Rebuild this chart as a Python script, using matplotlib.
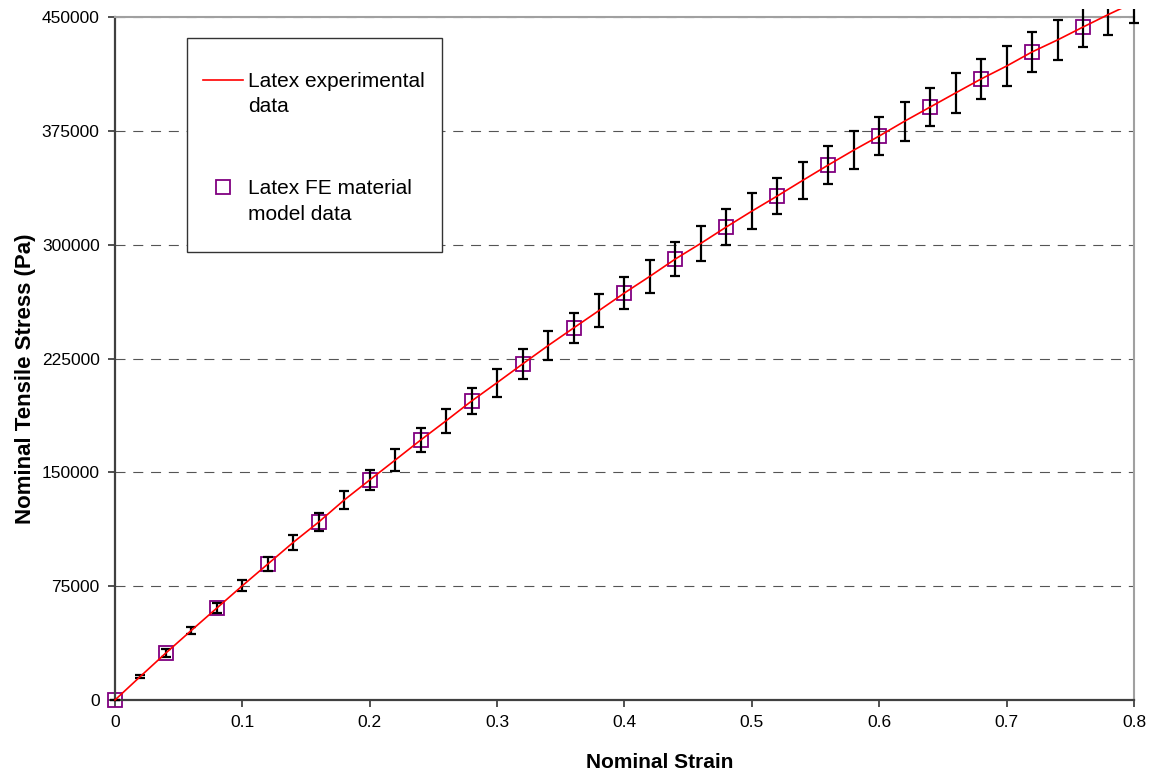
import numpy as np
import matplotlib
matplotlib.use("Agg")
import matplotlib.pyplot as plt
from matplotlib.patches import Rectangle

plt.rcParams['font.family'] = ['Liberation Sans', 'DejaVu Sans']

# experimental curve, read every 0.02 strain
strain = [0.00, 0.02, 0.04, 0.06, 0.08, 0.10, 0.12, 0.14, 0.16, 0.18,
          0.20, 0.22, 0.24, 0.26, 0.28, 0.30, 0.32, 0.34, 0.36, 0.38,
          0.40, 0.42, 0.44, 0.46, 0.48, 0.50, 0.52, 0.54, 0.56, 0.58,
          0.60, 0.62, 0.64, 0.66, 0.68, 0.70, 0.72, 0.74, 0.76, 0.78, 0.80]
stress = [0, 15600, 31000, 45900, 60600, 75300, 89600, 103900, 117300, 131800,
          145000, 158100, 171300, 184000, 197000, 209100, 221400, 233500, 245100, 256600,
          268200, 279200, 290600, 300900, 311700, 322100, 332100, 342400, 352500, 362300,
          371600, 381400, 390700, 400000, 409200, 417700, 427000, 434900, 443400, 451700, 459600]
stress_err = [0, 1000, 2400, 2500, 3500, 3800, 4400, 4900, 5700, 6100,
              6600, 7200, 7700, 8000, 8800, 9200, 9800, 9800, 10100, 10600,
              10800, 10800, 11200, 11400, 11700, 11700, 12100, 12300, 12300, 12600,
              12600, 12800, 12800, 13000, 13000, 13200, 13000, 13200, 13200, 13300, 13300]

# FE model points
fe_strain = [0.00, 0.04, 0.08, 0.12, 0.16, 0.20, 0.24, 0.28, 0.32, 0.36,
             0.40, 0.44, 0.48, 0.52, 0.56, 0.60, 0.64, 0.68, 0.72, 0.76]
fe_stress = [0, 31000, 60600, 89600, 117300, 145000, 171300, 197000, 221400, 245100,
             268200, 290600, 311700, 332100, 352500, 371600, 390700, 409200, 427000, 443400]

xticks = [0, 0.1, 0.2, 0.3, 0.4, 0.5, 0.6, 0.7, 0.8]
xtick_labels = ['0', '0.1', '0.2', '0.3', '0.4', '0.5', '0.6', '0.7', '0.8']
yticks = [0, 75000, 150000, 225000, 300000, 375000, 450000]

fig = plt.figure(figsize=(11.51, 7.74), dpi=100)
ax = fig.add_axes([0.0999, 0.0956, 0.8853, 0.8824])

# things may stick out a little past the top of the plot area
clip = Rectangle((-0.03, -0.05), 1.06, 1.0612, transform=ax.transAxes)

eb = ax.errorbar(strain, stress, yerr=stress_err, fmt='none', ecolor='black',
                 elinewidth=1.6, capsize=3.6, capthick=1.6, zorder=3)
for art in list(eb.lines[1]) + list(eb.lines[2]):
    art.set_clip_path(clip)

line, = ax.plot(strain, stress, color='red', lw=1.2, zorder=4,
                label='Latex experimental\ndata')
line.set_clip_path(clip)
sq, = ax.plot(fe_strain, fe_stress, ls='none', marker='s', ms=10.5, mfc='none',
              mec='#800080', mew=1.3, zorder=2.5, label='Latex FE material\nmodel data')
sq.set_clip_path(clip)

ax.set_xlim(0, 0.8)
ax.set_ylim(0, 450000)
ax.set_xticks(xticks)
ax.set_xticklabels(xtick_labels)
ax.set_yticks(yticks)
ax.set_yticklabels([str(v) for v in yticks])
ax.tick_params(axis='both', direction='out', length=5, width=1.2, color='#333333',
               labelsize=12.5, labelcolor='black')
ax.tick_params(axis='y', pad=6)
ax.tick_params(axis='x', pad=6)

ax.yaxis.grid(True, ls=(0, (9, 7)), color='#555555', lw=0.8)
ax.set_axisbelow(True)

for s in ['left', 'bottom']:
    ax.spines[s].set_color('#404040')
    ax.spines[s].set_linewidth(1.6)
for s in ['top', 'right']:
    ax.spines[s].set_color('#a0a0a0')
    ax.spines[s].set_linewidth(1.5)

ax.set_xlabel('Nominal Strain', fontsize=15, fontweight='bold')
ax.xaxis.set_label_coords(0.535, -0.077)
ax.set_ylabel('Nominal Tensile Stress (Pa)', fontsize=16, fontweight='bold')
ax.yaxis.set_label_coords(-0.078, 0.471)

# legend box
box = Rectangle((0.1625, 0.6744), 0.2215, 0.2765, transform=fig.transFigure,
                facecolor='white', edgecolor='#333333', lw=1.0, zorder=5)
fig.add_artist(box)
leg = fig.legend(handles=[line, sq], loc='center left', bbox_to_anchor=(0.1764, 0.8092),
                 frameon=False, fontsize=15, borderpad=0, borderaxespad=0,
                 handlelength=1.92, handleheight=1.0, handletextpad=0.25,
                 labelspacing=3.0)
for t in leg.get_texts():
    t.set_linespacing(1.45)
# rows flush left, handle next to the first line of each label
for col in leg._legend_handle_box.get_children():
    col.align = 'left'
    for row in col.get_children():
        row.align = 'top'
leg.set_zorder(6)

fig.savefig('out.png', dpi=100)
